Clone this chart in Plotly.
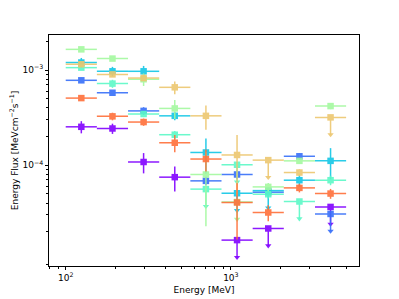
import numpy as np
import plotly.graph_objects as go

# Energy bins [MeV]
energy_center = [124.3, 191.9, 296.2, 457.4, 706.2, 1090, 1684, 2600, 4014]
energy_lo = [100, 154.4, 238.4, 368.1, 568.4, 877.6, 1355, 2092, 3230]
energy_hi = [154.4, 238.4, 368.1, 568.4, 877.6, 1355, 2092, 3230, 4987]

# Energy flux [MeV cm^-2 s^-1], None = no point
flux_1 = [2.53e-4, 2.43e-4, 1.08e-4, 7.48e-5, None, 1.63e-5, 2.16e-5, None, 3.64e-5]
err_1 = [3.7e-5, 3.0e-5, 2.6e-5, 2.2e-5, 0, 0, 0, 0, 0]
ul_1 = [0, 0, 0, 0, 0, 1, 1, 0, 1]

flux_2 = [7.8e-4, 5.77e-4, 3.72e-4, None, 6.84e-5, 7.98e-5, 5.2e-5, 1.24e-4, 3.07e-5]
err_2 = [5e-5, 4e-5, 3.5e-5, 0, 7e-6, 8e-6, 6e-6, 1e-5, 0]
ul_2 = [0, 0, 0, 0, 0, 0, 0, 0, 1]

flux_3 = [1.20e-3, 9.7e-4, 9.7e-4, 3.30e-4, 1.36e-4, 5.07e-5, 5.4e-5, 6.95e-5, 1.11e-4]
err_3 = [1.4e-4, 1.1e-4, 1.35e-4, 3.3e-5, 5.5e-5, 0, 0, 1e-5, 4e-5]
ul_3 = [0, 0, 0, 0, 0, 1, 1, 0, 0]

flux_4 = [1.06e-3, 7.2e-4, 3.45e-4, 2.09e-4, 5.6e-5, 1.01e-4, 4.95e-5, 4.15e-5, 6.95e-5]
err_4 = [5e-5, 7e-5, 2.5e-5, 2e-5, 0, 0, 5e-6, 0, 8e-6]
ul_4 = [0, 0, 0, 0, 1, 1, 0, 1, 0]

flux_5 = [1.65e-3, 1.32e-3, 8.0e-4, 3.95e-4, 7.98e-5, 4.1e-5, 5.91e-5, 1.11e-4, 4.18e-4]
err_5 = [5e-5, 6e-5, 1.2e-4, 9e-5, 5.7e-5, 0, 6e-6, 8e-6, 3e-5]
ul_5 = [0, 0, 0, 0, 0, 1, 0, 0, 0]

flux_6 = [1.15e-3, 9.0e-4, 8.24e-4, 6.58e-4, 3.30e-4, 1.28e-4, 1.13e-4, 8.37e-5, 3.18e-4]
err_6 = [5e-5, 4e-5, 6e-5, 1e-4, 9.5e-5, 8e-5, 0, 7e-6, 0]
ul_6 = [0, 0, 0, 0, 0, 0, 1, 0, 1]

flux_7 = [5.07e-4, 3.26e-4, 2.84e-4, 1.72e-4, 1.16e-4, 4.05e-5, 3.18e-5, 5.77e-5, 5.03e-5]
err_7 = [2.5e-5, 3e-5, 2.5e-5, 3.5e-5, 3e-5, 2.4e-5, 6e-6, 6e-6, 6e-6]
ul_7 = [0, 0, 0, 0, 0, 0, 0, 0, 0]

series = [
    (flux_1, err_1, ul_1, "#8000ff"),
    (flux_2, err_2, ul_2, "#376ff9"),
    (flux_3, err_3, ul_3, "#12c7e6"),
    (flux_4, err_4, ul_4, "#5bf9c7"),
    (flux_5, err_5, ul_5, "#a4f99f"),
    (flux_6, err_6, ul_6, "#edc76f"),
    (flux_7, err_7, ul_7, "#ff6f39"),
]
UL_FRAC = 0.34

fig = go.Figure()
ec = np.array(energy_center)
ex_plus = np.array(energy_hi) - ec
ex_minus = ec - np.array(energy_lo)

for flux, err, ul, col in series:
    xs, ys, ep, em, xp, xm = [], [], [], [], [], []
    ax, ay = [], []
    for i, f in enumerate(flux):
        if f is None:
            continue
        xs.append(ec[i]); ys.append(f)
        xp.append(ex_plus[i]); xm.append(ex_minus[i])
        if ul[i]:
            ep.append(0); em.append(UL_FRAC * f)
            ax.append(ec[i]); ay.append(f * (1 - UL_FRAC))
        else:
            ep.append(err[i]); em.append(err[i])
    fig.add_trace(go.Scatter(
        x=xs, y=ys, mode="markers",
        marker=dict(symbol="square", size=6.5, color=col),
        error_y=dict(type="data", symmetric=False, array=ep, arrayminus=em,
                     color=col, thickness=1.5, width=0),
        error_x=dict(type="data", symmetric=False, array=xp, arrayminus=xm,
                     color=col, thickness=1.5, width=0),
        opacity=0.9, showlegend=False))
    if ax:
        fig.add_trace(go.Scatter(
            x=ax, y=ay, mode="markers",
            marker=dict(symbol="triangle-down", size=5.5, color=col),
            opacity=0.9, showlegend=False))

xminor = [v * 10 ** d for d in (1, 2, 3) for v in range(2, 10)]
yminor = [v * 10.0 ** d for d in (-6, -5, -4, -3) for v in range(2, 10)]

font = dict(family="DejaVu Sans", size=9, color="black")
fig.update_layout(
    width=399, height=299,
    margin=dict(l=49, r=40, t=35, b=33),
    paper_bgcolor="white", plot_bgcolor="white",
    font=font,
    xaxis=dict(type="log", range=[1.8988, 3.7758], automargin=False,
               showline=True, linecolor="black", linewidth=1, mirror=True,
               showgrid=False, zeroline=False,
               ticks="outside", ticklen=3, tickcolor="black",
               tickmode="array", tickvals=[100, 1000],
               ticktext=["10<sup>2</sup>", "10<sup>3</sup>"],
               minor=dict(tickmode="array", tickvals=xminor, ticks="outside",
                          ticklen=2, tickcolor="black", showgrid=False),
               title=dict(text="Energy [MeV]", font=font, standoff=4)),
    yaxis=dict(type="log", range=[-5.06, -2.6316], automargin=False,
               showline=True, linecolor="black", linewidth=1, mirror=True,
               showgrid=False, zeroline=False,
               ticks="outside", ticklen=3, tickcolor="black",
               tickmode="array", tickvals=[1e-4, 1e-3],
               ticktext=["10<sup>−4</sup>", "10<sup>−3</sup>"],
               minor=dict(tickmode="array", tickvals=yminor, ticks="outside",
                          ticklen=2, tickcolor="black", showgrid=False),
               title=dict(text="Energy Flux [MeVcm<sup>−2</sup>s<sup>−1</sup>]",
                          font=font, standoff=2)),
)
fig.write_html("out.html", config={"displayModeBar": False},
               post_script="document.body.style.margin='0px';document.body.style.overflow='hidden';")
